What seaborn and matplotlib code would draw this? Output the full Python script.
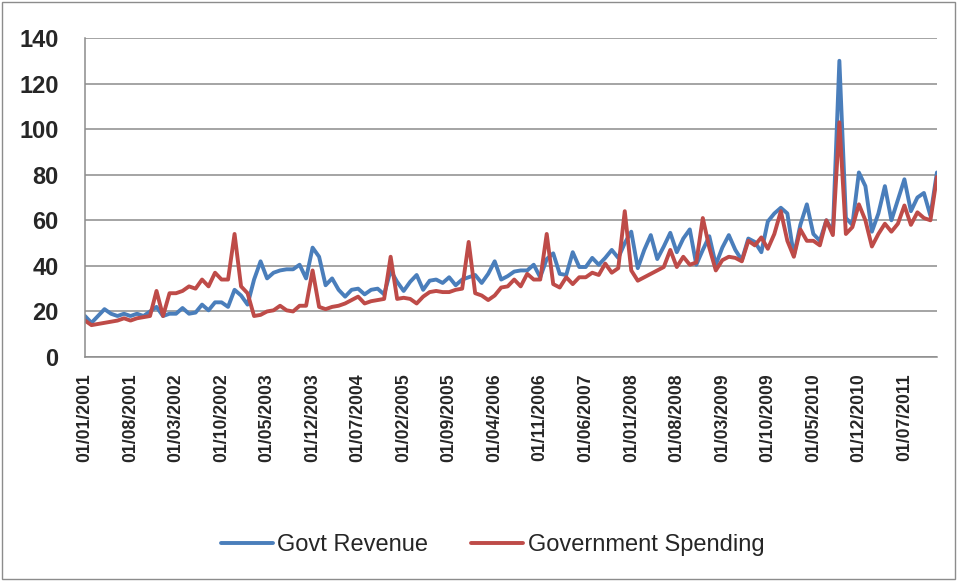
import numpy as np
import pandas as pd
import matplotlib
matplotlib.use('Agg')
import matplotlib.pyplot as plt
import seaborn as sns
from matplotlib.patches import Rectangle

# monthly data, Jan 2001 - Dec 2011
months = pd.date_range('2001-01-01', periods=132, freq='MS')

govt_revenue = [
    18, 15, 18, 21, 19, 18, 19, 18, 19, 18, 20, 22,
    18, 19, 19, 21.5, 19, 19.5, 23, 20.5, 24, 24, 22, 29.5,
    27, 23, 34, 42, 34.5, 37, 38, 38.5, 38.5, 40.5, 34.5, 48,
    44, 31.5, 34.5, 29.5, 26.5, 29.5, 30, 27.5, 29.5, 30, 27.5, 38,
    33, 29, 33, 36, 29.5, 33.5, 34, 32.5, 35, 31.5, 34, 35,
    36, 32.5, 36.5, 42, 34, 35.5, 37.5, 38, 38, 40.5, 35, 43,
    45.5, 36.5, 36, 46, 39.5, 39.5, 43.5, 40.5, 43.5, 47, 43.5, 50,
    55, 39, 47, 53.5, 43, 48.5, 54.5, 46, 52, 56, 40.5, 47,
    53, 40.5, 48, 53.5, 47, 42.5, 52, 50.5, 46, 59.5, 63, 65.5,
    63, 44.5, 58, 67, 54, 51, 60, 55, 130, 61, 58, 81,
    75, 55, 63, 75, 60, 69, 78, 64, 70, 72, 62, 81,
]

govt_spending = [
    16, 14, 14.5, 15, 15.5, 16, 17, 16, 17, 17.5, 18, 29,
    18, 28, 28, 29, 31, 30, 34, 31, 37, 34, 34, 54,
    31, 28, 18, 18.5, 20, 20.5, 22.5, 20.5, 20, 22.5, 22.5, 38,
    22, 21, 22, 22.5, 23.5, 25, 26.5, 23.5, 24.5, 25, 25.5, 44,
    25.5, 26, 25.5, 23.5, 26.5, 28.5, 29, 28.5, 28.5, 29.5, 30, 50.5,
    28, 27, 25, 27, 30.5, 31, 34, 31, 36.5, 34, 34, 54,
    32, 30.5, 35, 32, 35, 35, 37, 36, 41, 37, 39, 64,
    38, 33.5, 35, 36.5, 38, 39.5, 47, 39.5, 44, 40.5, 41.5, 61,
    48, 38, 42.5, 44, 43.5, 42, 51, 49, 52.5, 47.5, 54, 64,
    51, 44, 56, 51, 51, 49, 60, 53.5, 103, 54, 57, 67,
    60, 48.5, 54, 58.5, 55, 58.5, 66.5, 58, 63.5, 61, 60, 79,
]

series_names = ['Govt Revenue', 'Government Spending']
colors = ['#4A7EBB', '#BE4B48']
y_ticks = [0, 20, 40, 60, 80, 100, 120, 140]

df = pd.DataFrame({
    'pos': list(range(len(months))) * 2,
    'value': govt_revenue + govt_spending,
    'series': [series_names[0]] * len(months) + [series_names[1]] * len(months),
})

sns.set_style('white')
plt.rcParams['font.family'] = ['Liberation Sans', 'DejaVu Sans']

fig = plt.figure(figsize=(9.58, 5.81), dpi=100)
ax = fig.add_axes([0.0887, 0.3855, 0.8893, 0.5491])

sns.lineplot(data=df, x='pos', y='value', hue='series',
             palette=dict(zip(series_names, colors)),
             linewidth=2.8, ax=ax)

# axes styling (Excel look)
ax.set_xlim(0, len(months) - 1)
ax.set_ylim(0, 140)
ax.set_yticks(y_ticks)
ax.set_yticklabels([str(v) for v in y_ticks], fontsize=17, fontweight='bold')
tick_pos = list(range(0, len(months), 7))
ax.set_xticks(tick_pos)
ax.set_xticklabels([months[i].strftime('%d/%m/%Y') for i in tick_pos],
                   rotation=90, fontsize=12.7, fontweight='bold')
ax.set_xlabel('')
ax.set_ylabel('')
ax.grid(axis='y', color='#8c8c8c', linewidth=1.1)
ax.set_axisbelow(True)
for s in ['top', 'right']:
    ax.spines[s].set_visible(False)
for s in ['left', 'bottom']:
    ax.spines[s].set_color('#8c8c8c')
    ax.spines[s].set_linewidth(1.1)
ax.tick_params(axis='x', direction='out', length=6, width=1.1, color='#8c8c8c', pad=6)
ax.tick_params(axis='y', direction='out', length=5, width=1.1, color='#8c8c8c', pad=14)

sns.move_legend(ax, 'center', bbox_to_anchor=(0.514, 0.062),
                bbox_transform=fig.transFigure, ncol=2, frameon=False,
                title=None, fontsize=17, handlelength=2.2,
                handletextpad=0.2, columnspacing=1.8)

# chart border
fig.patches.append(Rectangle((0.002, 0.003), 0.995, 0.993, transform=fig.transFigure,
                             fill=False, edgecolor='#8c8c8c', linewidth=1))

fig.savefig('out.png', dpi=100)
